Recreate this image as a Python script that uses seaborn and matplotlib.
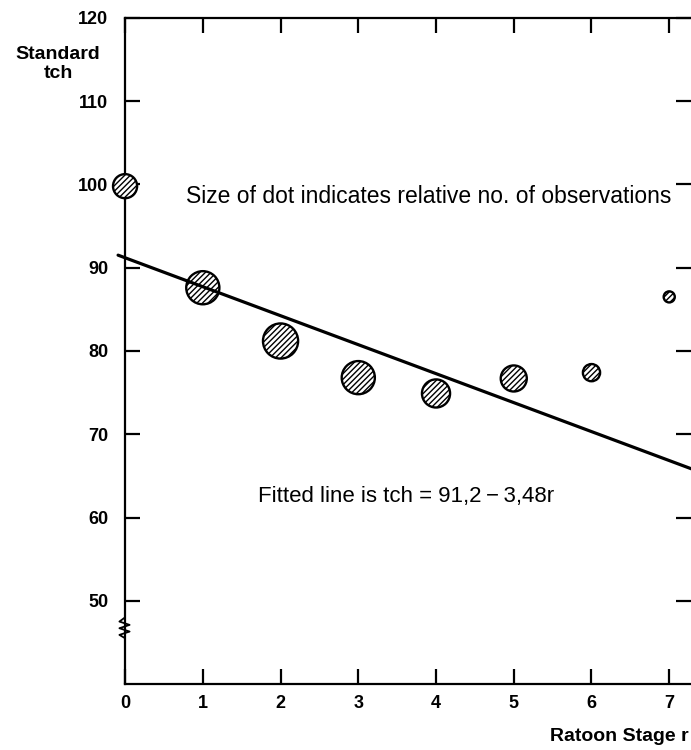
import numpy as np
import pandas as pd
import matplotlib
matplotlib.use("Agg")
import matplotlib.pyplot as plt
import seaborn as sns

# data
ratoon_stage = [0, 1, 2, 3, 4, 5, 6, 7]
standard_tch = [99.8, 87.6, 81.2, 76.8, 74.9, 76.7, 77.4, 86.5]
rel_obs = [47, 89, 100, 89, 64, 55, 24, 10]   # relative no. of observations (dot area)
intercept, slope = 91.2, -3.48
line_x = [-0.09, 7.3]

x_ticks = [0, 1, 2, 3, 4, 5, 6, 7]
y_ticks = [50, 60, 70, 80, 90, 100, 110, 120]

sns.set_style("ticks", {"axes.edgecolor": "black", "text.color": "black",
                        "xtick.color": "black", "ytick.color": "black"})
plt.rcParams['font.family'] = ['Liberation Sans', 'DejaVu Sans']
plt.rcParams['hatch.linewidth'] = 1.0

fig = plt.figure(figsize=(6.91, 7.5), dpi=100)
ax = fig.add_axes([0.181, 0.088, 0.819, 0.888])

df = pd.DataFrame({"r": ratoon_stage, "tch": standard_tch, "n": rel_obs})
sns.scatterplot(data=df, x="r", y="tch", size="n", sizes=(0, 640), size_norm=(0, 100),
                color="white", edgecolor="black", linewidth=1.7, hatch="//////",
                legend=False, ax=ax, zorder=3, clip_on=False)

fit = pd.DataFrame({"r": line_x})
fit["tch"] = intercept + slope * fit["r"]
sns.lineplot(data=fit, x="r", y="tch", color="black", linewidth=2.3, ax=ax,
             clip_on=False, zorder=4)

ax.set_xlim(0, 7.28)
ax.set_ylim(40, 120)
ax.set_xticks(x_ticks)
ax.set_yticks(y_ticks)
ax.tick_params(direction="in", length=11, width=1.6, top=True, right=True,
               labelsize=13, colors="black")
ax.tick_params(axis="x", pad=8)
ax.tick_params(axis="y", pad=12)
for lab in ax.get_xticklabels() + ax.get_yticklabels():
    lab.set_fontweight("bold")
for side in ["left", "bottom", "top"]:
    ax.spines[side].set_linewidth(1.6)
ax.spines["right"].set_visible(False)
ax.set_xlabel("")
ax.set_ylabel("")

# axis break on the y axis
zz_y = [48.0, 47.5, 47.1, 46.7, 46.3, 45.9, 45.5]
zz_x = [0.0, -0.01, 0.008, -0.01, 0.008, -0.01, 0.0]
ax.plot(zz_x, zz_y, color="black", lw=1.3, transform=ax.get_yaxis_transform(),
        clip_on=False)

ax.text(0.78, 98.6, "Size of dot indicates relative no. of observations",
        fontsize=16.5, va="center", ha="left", color="black")
ax.text(1.71, 62.5, "Fitted line is tch = 91,2\u2009\u2212\u20093,48r",
        fontsize=16, va="center", ha="left", color="black")

fig.text(58 / 691, 1 - 64 / 750, "Standard\ntch", ha="center", va="center",
         fontsize=14, fontweight="bold", linespacing=1.2, color="black")
fig.text(1 - 2 / 691, 1 - 745 / 750, "Ratoon Stage r", ha="right", va="bottom",
         fontsize=14, fontweight="bold", color="black")

fig.savefig("out.png", dpi=100)
